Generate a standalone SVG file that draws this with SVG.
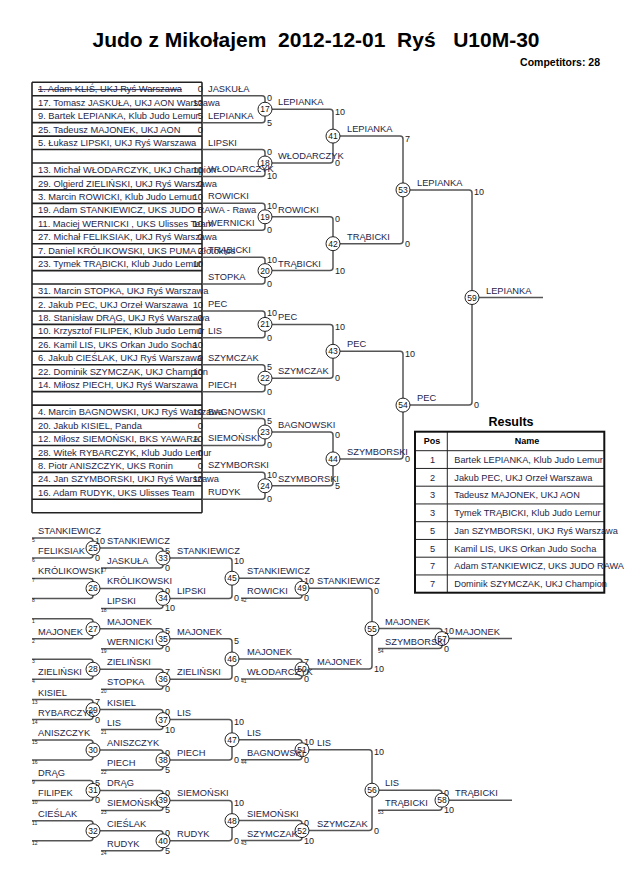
<svg xmlns="http://www.w3.org/2000/svg" width="630" height="891" viewBox="0 0 630 891">
<style>
text{font-family:"Liberation Sans",Arial,sans-serif}
.t{font-size:21px;font-weight:bold;fill:#000}
.cp{font-size:10.5px;font-weight:bold;text-anchor:end;fill:#000}
.lt{font-size:9.3px;fill:#1e1e46}
.ls{font-size:9.3px;fill:#222;text-anchor:end}
.nm{font-size:9.3px;fill:#1e1e46}
.sc{font-size:9px;fill:#222}
.tn{font-size:5px;fill:#222}
.cn{font-size:8.5px;text-anchor:middle;fill:#111}
.ln{fill:none;stroke:#555;stroke-width:1.5}
.ll{stroke:#222;stroke-width:1.6}
.c{fill:#fff;stroke:#222;stroke-width:1}
.rh{font-size:9px;font-weight:bold;fill:#000}
.rp{font-size:9.2px;fill:#1e1e46;text-anchor:middle}
.rt{font-size:9.2px;fill:#1e1e46}
</style>
<rect width="630" height="891" fill="#fff"/>
<text class="t" x="316" y="47" text-anchor="middle" xml:space="preserve">Judo z Mikołajem  2012-12-01  Ryś   U10M-30</text>
<text class="cp" x="600" y="66">Competitors: 28</text>

<g id="list">
<g class="ll">
<line x1="32" y1="82.3" x2="202" y2="82.3"/><line x1="32" y1="95.75" x2="202" y2="95.75"/><line x1="32" y1="109.2" x2="202" y2="109.2"/><line x1="32" y1="122.65" x2="202" y2="122.65"/><line x1="32" y1="136.1" x2="202" y2="136.1"/><line x1="32" y1="149.55" x2="202" y2="149.55"/><line x1="32" y1="163" x2="202" y2="163"/><line x1="32" y1="176.45" x2="202" y2="176.45"/><line x1="32" y1="189.9" x2="202" y2="189.9"/><line x1="32" y1="203.35" x2="202" y2="203.35"/><line x1="32" y1="216.8" x2="202" y2="216.8"/><line x1="32" y1="230.25" x2="202" y2="230.25"/><line x1="32" y1="243.7" x2="202" y2="243.7"/><line x1="32" y1="257.15" x2="202" y2="257.15"/><line x1="32" y1="270.6" x2="202" y2="270.6"/><line x1="32" y1="284.05" x2="202" y2="284.05"/><line x1="32" y1="297.5" x2="202" y2="297.5"/><line x1="32" y1="310.95" x2="202" y2="310.95"/><line x1="32" y1="324.4" x2="202" y2="324.4"/><line x1="32" y1="337.85" x2="202" y2="337.85"/><line x1="32" y1="351.3" x2="202" y2="351.3"/><line x1="32" y1="364.75" x2="202" y2="364.75"/><line x1="32" y1="378.2" x2="202" y2="378.2"/><line x1="32" y1="391.65" x2="202" y2="391.65"/><line x1="32" y1="405.1" x2="202" y2="405.1"/><line x1="32" y1="418.55" x2="202" y2="418.55"/><line x1="32" y1="432" x2="202" y2="432"/><line x1="32" y1="445.45" x2="202" y2="445.45"/><line x1="32" y1="458.9" x2="202" y2="458.9"/><line x1="32" y1="472.35" x2="202" y2="472.35"/><line x1="32" y1="485.8" x2="202" y2="485.8"/><line x1="32" y1="499.25" x2="202" y2="499.25"/><line x1="32" y1="512.7" x2="202" y2="512.7"/>
<line x1="32" y1="82.3" x2="32" y2="512.7"/><line x1="202" y1="82.3" x2="202" y2="512.7"/>
</g>
<text class="lt" x="38" y="92.3" text-decoration="line-through">1. Adam KLIŚ, UKJ Ryś Warszawa</text>
<text class="lt" x="38" y="105.8">17. Tomasz JASKUŁA, UKJ AON Warszawa</text>
<text class="lt" x="38" y="119.2">9. Bartek LEPIANKA, Klub Judo Lemur</text>
<text class="lt" x="38" y="132.7">25. Tadeusz MAJONEK, UKJ AON</text>
<text class="lt" x="38" y="146.1">5. Łukasz LIPSKI, UKJ Ryś Warszawa</text>
<text class="lt" x="38" y="173">13. Michał WŁODARCZYK, UKJ Champion</text>
<text class="lt" x="38" y="186.5">29. Olgierd ZIELIŃSKI, UKJ Ryś Warszawa</text>
<text class="lt" x="38" y="199.9">3. Marcin ROWICKI, Klub Judo Lemur</text>
<text class="lt" x="38" y="213.4">19. Adam STANKIEWICZ, UKS JUDO RAWA - Rawa</text>
<text class="lt" x="38" y="226.8">11. Maciej WERNICKI , UKS Ulisses Team</text>
<text class="lt" x="38" y="240.3">27. Michał FELIKSIAK, UKJ Ryś Warszawa</text>
<text class="lt" x="38" y="253.7">7. Daniel KRÓLIKOWSKI, UKS PUMA Złotokłos</text>
<text class="lt" x="38" y="267.2">23. Tymek TRĄBICKI, Klub Judo Lemur</text>
<text class="lt" x="38" y="294.1">31. Marcin STOPKA, UKJ Ryś Warszawa</text>
<text class="lt" x="38" y="307.5">2. Jakub PEC, UKJ Orzeł Warszawa</text>
<text class="lt" x="38" y="321">18. Stanisław DRĄG, UKJ Ryś Warszawa</text>
<text class="lt" x="38" y="334.4">10. Krzysztof FILIPEK, Klub Judo Lemur</text>
<text class="lt" x="38" y="347.9">26. Kamil LIS, UKS Orkan Judo Socha</text>
<text class="lt" x="38" y="361.3">6. Jakub CIEŚLAK, UKJ Ryś Warszawa</text>
<text class="lt" x="38" y="374.8">22. Dominik SZYMCZAK, UKJ Champion</text>
<text class="lt" x="38" y="388.2">14. Miłosz PIECH, UKJ Ryś Warszawa</text>
<text class="lt" x="38" y="415.1">4. Marcin BAGNOWSKI, UKJ Ryś Warszawa</text>
<text class="lt" x="38" y="428.6">20. Jakub KISIEL, Panda</text>
<text class="lt" x="38" y="442">12. Miłosz SIEMOŃSKI, BKS YAWARA</text>
<text class="lt" x="38" y="455.5">28. Witek RYBARCZYK, Klub Judo Lemur</text>
<text class="lt" x="38" y="468.9">8. Piotr ANISZCZYK, UKS Ronin</text>
<text class="lt" x="38" y="482.4">24. Jan SZYMBORSKI, UKJ Ryś Warszawa</text>
<text class="lt" x="38" y="495.8">16. Adam RUDYK, UKS Ulisses Team</text>
<text class="ls" x="203" y="92.3">0</text>
<text class="ls" x="203" y="105.8">10</text>
<text class="ls" x="203" y="119.2">5</text>
<text class="ls" x="203" y="132.7">0</text>
<text class="ls" x="203" y="173">10</text>
<text class="ls" x="203" y="186.5">0</text>
<text class="ls" x="203" y="199.9">10</text>
<text class="ls" x="203" y="213.4">0</text>
<text class="ls" x="203" y="226.8">10</text>
<text class="ls" x="203" y="240.3">0</text>
<text class="ls" x="203" y="253.7">0</text>
<text class="ls" x="203" y="267.2">10</text>
<text class="ls" x="203" y="307.5">10</text>
<text class="ls" x="203" y="321">0</text>
<text class="ls" x="203" y="334.4">0</text>
<text class="ls" x="203" y="347.9">10</text>
<text class="ls" x="203" y="361.3">0</text>
<text class="ls" x="203" y="374.8">10</text>
<text class="ls" x="203" y="415.1">10</text>
<text class="ls" x="203" y="428.6">0</text>
<text class="ls" x="203" y="442">10</text>
<text class="ls" x="203" y="455.5">0</text>
<text class="ls" x="203" y="468.9">0</text>
<text class="ls" x="203" y="482.4">10</text>
</g>

<g id="connectors" class="ln">
<path d="M202,95.75H262Q265,95.75 265,98.75V119.65Q265,122.65 262,122.65H202"/>
<path d="M202,149.55H262Q265,149.55 265,152.55V173.45Q265,176.45 262,176.45H202"/>
<path d="M202,203.35H262Q265,203.35 265,206.35V227.25Q265,230.25 262,230.25H202"/>
<path d="M202,257.15H262Q265,257.15 265,260.15V281.05Q265,284.05 262,284.05H202"/>
<path d="M202,310.95H262Q265,310.95 265,313.95V334.85Q265,337.85 262,337.85H202"/>
<path d="M202,364.75H262Q265,364.75 265,367.75V388.65Q265,391.65 262,391.65H202"/>
<path d="M202,418.55H262Q265,418.55 265,421.55V442.45Q265,445.45 262,445.45H202"/>
<path d="M202,472.35H262Q265,472.35 265,475.35V496.25Q265,499.25 262,499.25H202"/>
<path d="M265,109.2H330Q333,109.2 333,112.2V160Q333,163 330,163H265"/>
<path d="M265,216.8H330Q333,216.8 333,219.8V267.6Q333,270.6 330,270.6H265"/>
<path d="M265,324.4H330Q333,324.4 333,327.4V375.2Q333,378.2 330,378.2H265"/>
<path d="M265,432H330Q333,432 333,435V482.8Q333,485.8 330,485.8H265"/>
<path d="M333,136.1H400Q403,136.1 403,139.1V240.7Q403,243.7 400,243.7H333"/>
<path d="M333,351.3H400Q403,351.3 403,354.3V455.9Q403,458.9 400,458.9H333"/>
<path d="M403,189.9H469Q472,189.9 472,192.9V402.1Q472,405.1 469,405.1H403"/>
<path d="M472,297.5H543"/>
<path d="M32,538H90Q93,538 93,541V555Q93,558 90,558H32"/>
<path d="M32,578.4H90Q93,578.4 93,581.4V595.4Q93,598.4 90,598.4H32"/>
<path d="M32,618.8H90Q93,618.8 93,621.8V635.8Q93,638.8 90,638.8H32"/>
<path d="M32,659.2H90Q93,659.2 93,662.2V676.2Q93,679.2 90,679.2H32"/>
<path d="M32,699.6H90Q93,699.6 93,702.6V716.6Q93,719.6 90,719.6H32"/>
<path d="M32,740H90Q93,740 93,743V757Q93,760 90,760H32"/>
<path d="M32,780.4H90Q93,780.4 93,783.4V797.4Q93,800.4 90,800.4H32"/>
<path d="M32,820.8H90Q93,820.8 93,823.8V837.8Q93,840.8 90,840.8H32"/>
<path d="M93,548H160Q163,548 163,551V565Q163,568 160,568H101"/>
<path d="M93,588.4H160Q163,588.4 163,591.4V605.4Q163,608.4 160,608.4H101"/>
<path d="M93,628.8H160Q163,628.8 163,631.8V645.8Q163,648.8 160,648.8H101"/>
<path d="M93,669.2H160Q163,669.2 163,672.2V686.2Q163,689.2 160,689.2H101"/>
<path d="M93,709.6H160Q163,709.6 163,712.6V726.6Q163,729.6 160,729.6H101"/>
<path d="M93,750H160Q163,750 163,753V767Q163,770 160,770H101"/>
<path d="M93,790.4H160Q163,790.4 163,793.4V807.4Q163,810.4 160,810.4H101"/>
<path d="M93,830.8H160Q163,830.8 163,833.8V847.8Q163,850.8 160,850.8H101"/>
<path d="M163,558H229Q232,558 232,561V595.4Q232,598.4 229,598.4H163"/>
<path d="M163,638.8H229Q232,638.8 232,641.8V676.2Q232,679.2 229,679.2H163"/>
<path d="M163,719.6H229Q232,719.6 232,722.6V757Q232,760 229,760H163"/>
<path d="M163,800.4H229Q232,800.4 232,803.4V837.8Q232,840.8 229,840.8H163"/>
<path d="M232,578.2H299Q302,578.2 302,581.2V595.2Q302,598.2 299,598.2H241"/>
<path d="M232,659H299Q302,659 302,662V676Q302,679 299,679H241"/>
<path d="M232,739.8H299Q302,739.8 302,742.8V756.8Q302,759.8 299,759.8H241"/>
<path d="M232,820.6H299Q302,820.6 302,823.6V837.6Q302,840.6 299,840.6H241"/>
<path d="M302,588.2H369Q372,588.2 372,591.2V666Q372,669 369,669H302"/>
<path d="M302,749.8H369Q372,749.8 372,752.8V827.6Q372,830.6 369,830.6H302"/>
<path d="M372,628.6H439Q442,628.6 442,631.6V645.6Q442,648.6 439,648.6H378"/>
<path d="M372,790.2H439Q442,790.2 442,793.2V807.2Q442,810.2 439,810.2H378"/>
<path d="M442,638.6H512"/>
<path d="M442,800.2H512"/>
</g>

<g id="nodes">
<g id="m17"><circle class="c" cx="265" cy="109.2" r="7"/><text class="cn" x="265" y="112.2">17</text></g>
<g id="m18"><circle class="c" cx="265" cy="163" r="7"/><text class="cn" x="265" y="166">18</text></g>
<g id="m19"><circle class="c" cx="265" cy="216.8" r="7"/><text class="cn" x="265" y="219.8">19</text></g>
<g id="m20"><circle class="c" cx="265" cy="270.6" r="7"/><text class="cn" x="265" y="273.6">20</text></g>
<g id="m21"><circle class="c" cx="265" cy="324.4" r="7"/><text class="cn" x="265" y="327.4">21</text></g>
<g id="m22"><circle class="c" cx="265" cy="378.2" r="7"/><text class="cn" x="265" y="381.2">22</text></g>
<g id="m23"><circle class="c" cx="265" cy="432" r="7"/><text class="cn" x="265" y="435">23</text></g>
<g id="m24"><circle class="c" cx="265" cy="485.8" r="7"/><text class="cn" x="265" y="488.8">24</text></g>
<g id="m41"><circle class="c" cx="333" cy="136.1" r="7"/><text class="cn" x="333" y="139.1">41</text></g>
<g id="m42"><circle class="c" cx="333" cy="243.7" r="7"/><text class="cn" x="333" y="246.7">42</text></g>
<g id="m43"><circle class="c" cx="333" cy="351.3" r="7"/><text class="cn" x="333" y="354.3">43</text></g>
<g id="m44"><circle class="c" cx="333" cy="458.9" r="7"/><text class="cn" x="333" y="461.9">44</text></g>
<g id="m53"><circle class="c" cx="403" cy="189.9" r="7"/><text class="cn" x="403" y="192.9">53</text></g>
<g id="m54"><circle class="c" cx="403" cy="405.1" r="7"/><text class="cn" x="403" y="408.1">54</text></g>
<g id="m59"><circle class="c" cx="472" cy="297.5" r="7"/><text class="cn" x="472" y="300.5">59</text></g>
<g id="m25"><circle class="c" cx="93" cy="548" r="7"/><text class="cn" x="93" y="551">25</text></g>
<g id="m26"><circle class="c" cx="93" cy="588.4" r="7"/><text class="cn" x="93" y="591.4">26</text></g>
<g id="m27"><circle class="c" cx="93" cy="628.8" r="7"/><text class="cn" x="93" y="631.8">27</text></g>
<g id="m28"><circle class="c" cx="93" cy="669.2" r="7"/><text class="cn" x="93" y="672.2">28</text></g>
<g id="m29"><circle class="c" cx="93" cy="709.6" r="7"/><text class="cn" x="93" y="712.6">29</text></g>
<g id="m30"><circle class="c" cx="93" cy="750" r="7"/><text class="cn" x="93" y="753">30</text></g>
<g id="m31"><circle class="c" cx="93" cy="790.4" r="7"/><text class="cn" x="93" y="793.4">31</text></g>
<g id="m32"><circle class="c" cx="93" cy="830.8" r="7"/><text class="cn" x="93" y="833.8">32</text></g>
<g id="m33"><circle class="c" cx="163" cy="558" r="7"/><text class="cn" x="163" y="561">33</text></g>
<g id="m34"><circle class="c" cx="163" cy="598.4" r="7"/><text class="cn" x="163" y="601.4">34</text></g>
<g id="m35"><circle class="c" cx="163" cy="638.8" r="7"/><text class="cn" x="163" y="641.8">35</text></g>
<g id="m36"><circle class="c" cx="163" cy="679.2" r="7"/><text class="cn" x="163" y="682.2">36</text></g>
<g id="m37"><circle class="c" cx="163" cy="719.6" r="7"/><text class="cn" x="163" y="722.6">37</text></g>
<g id="m38"><circle class="c" cx="163" cy="760" r="7"/><text class="cn" x="163" y="763">38</text></g>
<g id="m39"><circle class="c" cx="163" cy="800.4" r="7"/><text class="cn" x="163" y="803.4">39</text></g>
<g id="m40"><circle class="c" cx="163" cy="840.8" r="7"/><text class="cn" x="163" y="843.8">40</text></g>
<g id="m45"><circle class="c" cx="232" cy="578.2" r="7"/><text class="cn" x="232" y="581.2">45</text></g>
<g id="m46"><circle class="c" cx="232" cy="659" r="7"/><text class="cn" x="232" y="662">46</text></g>
<g id="m47"><circle class="c" cx="232" cy="739.8" r="7"/><text class="cn" x="232" y="742.8">47</text></g>
<g id="m48"><circle class="c" cx="232" cy="820.6" r="7"/><text class="cn" x="232" y="823.6">48</text></g>
<g id="m49"><circle class="c" cx="302" cy="588.2" r="7"/><text class="cn" x="302" y="591.2">49</text></g>
<g id="m50"><circle class="c" cx="302" cy="669" r="7"/><text class="cn" x="302" y="672">50</text></g>
<g id="m51"><circle class="c" cx="302" cy="749.8" r="7"/><text class="cn" x="302" y="752.8">51</text></g>
<g id="m52"><circle class="c" cx="302" cy="830.6" r="7"/><text class="cn" x="302" y="833.6">52</text></g>
<g id="m55"><circle class="c" cx="372" cy="628.6" r="7"/><text class="cn" x="372" y="631.6">55</text></g>
<g id="m56"><circle class="c" cx="372" cy="790.2" r="7"/><text class="cn" x="372" y="793.2">56</text></g>
<g id="m57"><circle class="c" cx="442" cy="638.6" r="7"/><text class="cn" x="442" y="641.6">57</text></g>
<g id="m58"><circle class="c" cx="442" cy="800.2" r="7"/><text class="cn" x="442" y="803.2">58</text></g>
</g>

<g id="names">
<text class="nm" x="208" y="91.75">JASKUŁA</text>
<text class="nm" x="208" y="118.65">LEPIANKA</text>
<text class="nm" x="208" y="145.55">LIPSKI</text>
<text class="nm" x="208" y="172.45">WŁODARCZYK</text>
<text class="nm" x="208" y="199.35">ROWICKI</text>
<text class="nm" x="208" y="226.25">WERNICKI</text>
<text class="nm" x="208" y="253.15">TRĄBICKI</text>
<text class="nm" x="208" y="280.05">STOPKA</text>
<text class="nm" x="208" y="306.95">PEC</text>
<text class="nm" x="208" y="333.85">LIS</text>
<text class="nm" x="208" y="360.75">SZYMCZAK</text>
<text class="nm" x="208" y="387.65">PIECH</text>
<text class="nm" x="208" y="414.55">BAGNOWSKI</text>
<text class="nm" x="208" y="441.45">SIEMOŃSKI</text>
<text class="nm" x="208" y="468.35">SZYMBORSKI</text>
<text class="nm" x="208" y="495.25">RUDYK</text>
<text class="nm" x="278" y="105.2">LEPIANKA</text>
<text class="nm" x="278" y="159">WŁODARCZYK</text>
<text class="nm" x="278" y="212.8">ROWICKI</text>
<text class="nm" x="278" y="266.6">TRĄBICKI</text>
<text class="nm" x="278" y="320.4">PEC</text>
<text class="nm" x="278" y="374.2">SZYMCZAK</text>
<text class="nm" x="278" y="428">BAGNOWSKI</text>
<text class="nm" x="278" y="481.8">SZYMBORSKI</text>
<text class="nm" x="347" y="132.1">LEPIANKA</text>
<text class="nm" x="347" y="239.7">TRĄBICKI</text>
<text class="nm" x="347" y="347.3">PEC</text>
<text class="nm" x="347" y="454.9">SZYMBORSKI</text>
<text class="nm" x="417" y="185.9">LEPIANKA</text>
<text class="nm" x="417" y="401.1">PEC</text>
<text class="nm" x="486" y="293.5">LEPIANKA</text>
<text class="nm" x="38" y="534">STANKIEWICZ</text>
<text class="nm" x="38" y="554">FELIKSIAK</text>
<text class="nm" x="38" y="574.4">KRÓLIKOWSKI</text>
<text class="nm" x="38" y="634.8">MAJONEK</text>
<text class="nm" x="38" y="675.2">ZIELIŃSKI</text>
<text class="nm" x="38" y="695.6">KISIEL</text>
<text class="nm" x="38" y="715.6">RYBARCZYK</text>
<text class="nm" x="38" y="736">ANISZCZYK</text>
<text class="nm" x="38" y="776.4">DRĄG</text>
<text class="nm" x="38" y="796.4">FILIPEK</text>
<text class="nm" x="38" y="816.8">CIEŚLAK</text>
<text class="nm" x="107" y="544">STANKIEWICZ</text>
<text class="nm" x="107" y="564">JASKUŁA</text>
<text class="nm" x="107" y="584.4">KRÓLIKOWSKI</text>
<text class="nm" x="107" y="604.4">LIPSKI</text>
<text class="nm" x="107" y="624.8">MAJONEK</text>
<text class="nm" x="107" y="644.8">WERNICKI</text>
<text class="nm" x="107" y="665.2">ZIELIŃSKI</text>
<text class="nm" x="107" y="685.2">STOPKA</text>
<text class="nm" x="107" y="705.6">KISIEL</text>
<text class="nm" x="107" y="725.6">LIS</text>
<text class="nm" x="107" y="746">ANISZCZYK</text>
<text class="nm" x="107" y="766">PIECH</text>
<text class="nm" x="107" y="786.4">DRĄG</text>
<text class="nm" x="107" y="806.4">SIEMOŃSKI</text>
<text class="nm" x="107" y="826.8">CIEŚLAK</text>
<text class="nm" x="107" y="846.8">RUDYK</text>
<text class="nm" x="177" y="554">STANKIEWICZ</text>
<text class="nm" x="177" y="594.4">LIPSKI</text>
<text class="nm" x="177" y="634.8">MAJONEK</text>
<text class="nm" x="177" y="675.2">ZIELIŃSKI</text>
<text class="nm" x="177" y="715.6">LIS</text>
<text class="nm" x="177" y="756">PIECH</text>
<text class="nm" x="177" y="796.4">SIEMOŃSKI</text>
<text class="nm" x="177" y="836.8">RUDYK</text>
<text class="nm" x="247" y="574.2">STANKIEWICZ</text>
<text class="nm" x="247" y="594.2">ROWICKI</text>
<text class="nm" x="247" y="655">MAJONEK</text>
<text class="nm" x="247" y="675">WŁODARCZYK</text>
<text class="nm" x="247" y="735.8">LIS</text>
<text class="nm" x="247" y="755.8">BAGNOWSKI</text>
<text class="nm" x="247" y="816.6">SIEMOŃSKI</text>
<text class="nm" x="247" y="836.6">SZYMCZAK</text>
<text class="nm" x="317" y="584.2">STANKIEWICZ</text>
<text class="nm" x="317" y="665">MAJONEK</text>
<text class="nm" x="317" y="745.8">LIS</text>
<text class="nm" x="317" y="826.6">SZYMCZAK</text>
<text class="nm" x="385" y="624.6">MAJONEK</text>
<text class="nm" x="385" y="644.6">SZYMBORSKI</text>
<text class="nm" x="385" y="786.2">LIS</text>
<text class="nm" x="385" y="806.2">TRĄBICKI</text>
<text class="nm" x="455" y="634.6">MAJONEK</text>
<text class="nm" x="455" y="796.2">TRĄBICKI</text>
</g>

<g id="scores" class="sc">
<text x="267" y="101.25">0</text><text x="267" y="125.65">5</text>
<text x="267" y="155.05">0</text><text x="267" y="179.45">10</text>
<text x="267" y="208.85">10</text><text x="267" y="233.25">0</text>
<text x="267" y="262.65">10</text><text x="267" y="287.05">0</text>
<text x="267" y="316.45">10</text><text x="267" y="340.85">0</text>
<text x="267" y="370.25">5</text><text x="267" y="394.65">0</text>
<text x="267" y="424.05">5</text><text x="267" y="448.45">0</text>
<text x="267" y="477.85">10</text><text x="267" y="502.25">0</text>
<text x="335" y="114.7">10</text><text x="335" y="166">0</text>
<text x="335" y="222.3">0</text><text x="335" y="273.6">10</text>
<text x="335" y="329.9">10</text><text x="335" y="381.2">0</text>
<text x="335" y="437.5">0</text><text x="335" y="488.8">5</text>
<text x="405" y="141.6">7</text><text x="405" y="246.7">0</text>
<text x="405" y="356.8">10</text><text x="405" y="461.9">0</text>
<text x="474" y="195.4">10</text><text x="474" y="408.1">0</text>
<text x="95" y="543.5">10</text><text x="95" y="561">0</text>
<text x="95" y="705.1">7</text><text x="95" y="722.6">0</text>
<text x="95" y="785.9">5</text><text x="95" y="803.4">0</text>
<text x="165" y="553.5">5</text><text x="165" y="571">0</text>
<text x="165" y="593.9">0</text><text x="165" y="611.4">10</text>
<text x="165" y="634.3">5</text><text x="165" y="651.8">0</text>
<text x="165" y="674.7">7</text><text x="165" y="692.2">0</text>
<text x="165" y="715.1">0</text><text x="165" y="732.6">10</text>
<text x="165" y="755.5">0</text><text x="165" y="773">5</text>
<text x="165" y="795.9">0</text><text x="165" y="813.4">5</text>
<text x="165" y="836.3">0</text><text x="165" y="853.8">5</text>
<text x="234" y="563.5">10</text><text x="234" y="601.4">0</text>
<text x="234" y="644.3">5</text><text x="234" y="682.2">0</text>
<text x="234" y="725.1">10</text><text x="234" y="763">0</text>
<text x="234" y="805.9">10</text><text x="234" y="843.8">0</text>
<text x="304" y="583.7">10</text><text x="304" y="601.2">0</text>
<text x="304" y="664.5">7</text><text x="304" y="682">0</text>
<text x="304" y="745.3">10</text><text x="304" y="762.8">0</text>
<text x="304" y="826.1">0</text><text x="304" y="843.6">10</text>
<text x="374" y="593.7">0</text><text x="374" y="672">10</text>
<text x="374" y="755.3">10</text><text x="374" y="833.6">0</text>
<text x="444" y="634.1">10</text><text x="444" y="651.6">0</text>
<text x="444" y="795.7">0</text><text x="444" y="813.2">10</text>
</g>

<g id="sources" class="tn">
<text x="32" y="542">5</text><text x="32" y="562">6</text>
<text x="32" y="582.4">7</text><text x="32" y="602.4">8</text>
<text x="32" y="622.8">1</text><text x="32" y="642.8">2</text>
<text x="32" y="663.2">3</text><text x="32" y="683.2">4</text>
<text x="32" y="703.6">13</text><text x="32" y="723.6">14</text>
<text x="32" y="744">15</text><text x="32" y="764">16</text>
<text x="32" y="784.4">9</text><text x="32" y="804.4">10</text>
<text x="32" y="824.8">11</text><text x="32" y="844.8">12</text>
<text x="101" y="572">17</text><text x="101" y="612.4">18</text>
<text x="101" y="652.8">19</text><text x="101" y="693.2">20</text>
<text x="101" y="733.6">21</text><text x="101" y="774">22</text>
<text x="101" y="814.4">23</text><text x="101" y="854.8">24</text>
<text x="241" y="602.2">42</text><text x="241" y="683">41</text>
<text x="241" y="763.8">44</text><text x="241" y="844.6">43</text>
<text x="378" y="652.6">54</text><text x="378" y="814.2">53</text>
</g>

<g id="results">
<text x="511" y="426" text-anchor="middle" style="font-size:12.5px;font-weight:bold">Results</text>
<g stroke="#222" stroke-width="1">
<line x1="415" y1="450.7" x2="604" y2="450.7"/><line x1="415" y1="468.45" x2="604" y2="468.45"/><line x1="415" y1="486.2" x2="604" y2="486.2"/><line x1="415" y1="503.95" x2="604" y2="503.95"/><line x1="415" y1="521.7" x2="604" y2="521.7"/><line x1="415" y1="539.45" x2="604" y2="539.45"/><line x1="415" y1="557.2" x2="604" y2="557.2"/><line x1="415" y1="574.95" x2="604" y2="574.95"/>
<line x1="447.3" y1="431.7" x2="447.3" y2="592.7"/>
</g>
<text class="rh" x="432" y="444.4" text-anchor="middle">Pos</text>
<text class="rh" x="527" y="444.4" text-anchor="middle">Name</text>
<text class="rp" x="432.5" y="462.8">1</text><text class="rt" x="454.3" y="462.8">Bartek LEPIANKA, Klub Judo Lemur</text>
<text class="rp" x="432.5" y="480.6">2</text><text class="rt" x="454.3" y="480.6">Jakub PEC, UKJ Orzeł Warszawa</text>
<text class="rp" x="432.5" y="498.3">3</text><text class="rt" x="454.3" y="498.3">Tadeusz MAJONEK, UKJ AON</text>
<text class="rp" x="432.5" y="516.1">3</text><text class="rt" x="454.3" y="516.1">Tymek TRĄBICKI, Klub Judo Lemur</text>
<text class="rp" x="432.5" y="533.8">5</text><text class="rt" x="454.3" y="533.8">Jan SZYMBORSKI, UKJ Ryś Warszawa</text>
<text class="rp" x="432.5" y="551.6">5</text><text class="rt" x="454.3" y="551.6">Kamil LIS, UKS Orkan Judo Socha</text>
<text class="rp" x="432.5" y="569.3">7</text><text class="rt" x="454.3" y="569.3">Adam STANKIEWICZ, UKS JUDO RAWA</text>
<text class="rp" x="432.5" y="587.1">7</text><text class="rt" x="454.3" y="587.1">Dominik SZYMCZAK, UKJ Champion</text>
<rect x="415" y="431.7" width="189.3" height="161" fill="none" stroke="#111" stroke-width="2"/>
</g>
</svg>
